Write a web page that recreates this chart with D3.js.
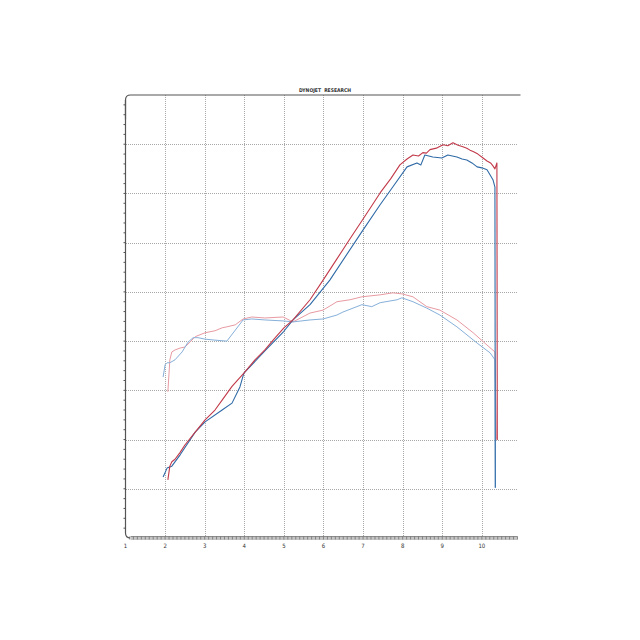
<!DOCTYPE html>
<html>
<head>
<meta charset="utf-8">
<script src="https://cdn.jsdelivr.net/npm/d3@7"></script>
<style>
html,body{margin:0;padding:0;background:#fff;}
svg{display:block;}
</style>
</head>
<body>
<svg id="chart" width="640" height="640"></svg>
<script>
// ---- Data (RPM x1000, grid units) ----
const title = "DYNOJET  RESEARCH";
const xTickLabels = [1,2,3,4,5,6,7,8,9,10];
const yGridValues = [1,2,3,4,5,6,7,8];

const powerRedRpm = [2.07,2.12,2.17,2.25,2.38,2.50,2.76,3.01,3.26,3.44,3.69,3.99,4.27,4.52,4.75,5.00,5.23,5.66,5.99,6.34,6.67,6.95,7.22,7.43,7.70,7.93,8.11,8.26,8.40,8.51,8.60,8.69,8.85,9.02,9.14,9.27,9.40,9.52,9.62,9.70,9.78,9.90,10.03,10.13,10.22,10.28,10.33,10.38,10.39];
const powerRed    = [1.18,1.46,1.55,1.60,1.74,1.89,2.15,2.40,2.60,2.80,3.08,3.35,3.62,3.82,4.04,4.27,4.43,4.84,5.24,5.67,6.08,6.42,6.75,7.01,7.30,7.58,7.70,7.78,7.76,7.83,7.82,7.89,7.92,7.99,7.97,8.03,7.98,7.95,7.92,7.88,7.85,7.80,7.72,7.66,7.62,7.56,7.50,7.62,1.99];

const powerBlueRpm = [1.95,2.05,2.17,2.38,2.76,3.01,3.44,3.69,3.89,3.99,4.52,5.00,5.23,5.66,6.16,6.95,7.43,7.75,8.11,8.36,8.46,8.56,8.76,8.99,9.14,9.37,9.50,9.62,9.75,9.88,10.00,10.13,10.28,10.33,10.34];
const powerBlue    = [1.24,1.42,1.46,1.69,2.15,2.36,2.60,2.74,3.07,3.35,3.80,4.20,4.43,4.74,5.24,6.20,6.77,7.13,7.54,7.62,7.58,7.78,7.74,7.72,7.78,7.74,7.70,7.68,7.62,7.54,7.52,7.48,7.28,7.13,1.02];

const torqueRedRpm = [2.07,2.12,2.17,2.25,2.38,2.50,2.63,2.76,3.01,3.26,3.44,3.56,3.77,3.97,4.19,4.52,4.98,5.23,5.66,5.99,6.34,6.67,6.97,7.43,7.75,7.98,8.26,8.61,8.94,9.37,9.78,10.13,10.33,10.37];
const torqueRed    = [2.97,3.62,3.78,3.82,3.86,3.88,3.98,4.09,4.17,4.21,4.27,4.29,4.33,4.45,4.49,4.47,4.49,4.39,4.57,4.63,4.80,4.84,4.90,4.94,4.98,4.96,4.90,4.70,4.63,4.43,4.17,3.92,3.78,2.00];

const torqueBlueRpm = [1.95,2.00,2.05,2.12,2.25,2.43,2.58,2.71,2.83,3.01,3.26,3.56,3.97,4.19,4.52,4.98,5.23,5.66,5.99,6.34,6.49,6.97,7.22,7.43,7.86,7.98,8.26,8.61,8.94,9.37,9.88,10.21,10.33,10.34];
const torqueBlue    = [3.27,3.52,3.56,3.56,3.62,3.78,3.98,4.07,4.07,4.04,4.02,4.00,4.43,4.45,4.43,4.41,4.39,4.43,4.45,4.53,4.59,4.74,4.70,4.78,4.84,4.88,4.80,4.67,4.53,4.29,3.96,3.76,3.62,1.02];

const series = [
  {name:"torqueRed",  xs:torqueRedRpm,  ys:torqueRed,  color:"#e89aa2", w:1},
  {name:"torqueBlue", xs:torqueBlueRpm, ys:torqueBlue, color:"#86b0da", w:1},
  {name:"powerBlue",  xs:powerBlueRpm,  ys:powerBlue,  color:"#2f6aa6", w:1.1},
  {name:"powerRed",   xs:powerRedRpm,   ys:powerRed,   color:"#c23a4a", w:1.1}
];

// ---- Chart ----
const svg = d3.select("#chart");
const x = d3.scaleLinear().domain([1, 10.9]).range([125.5, 517.5]);
const y = d3.scaleLinear().domain([0, 9]).range([538, 95]);
const px = v => Math.round(v) + 0.5;

// grid
const grid = svg.append("g").attr("shape-rendering", "crispEdges");
grid.selectAll("line.v").data(xTickLabels.filter(d => d > 1)).join("line")
  .attr("x1", d => px(x(d))).attr("x2", d => px(x(d)))
  .attr("y1", y(9)).attr("y2", y(0))
  .attr("stroke", "#a8a8a8").attr("stroke-width", 1).attr("stroke-dasharray", "1,1");
grid.selectAll("line.h").data(yGridValues).join("line")
  .attr("x1", x(1)).attr("x2", x(10.9))
  .attr("y1", d => px(y(d))).attr("y2", d => px(y(d)))
  .attr("stroke", "#a8a8a8").attr("stroke-width", 1).attr("stroke-dasharray", "1,1");

// top frame line with rounded corner
const r = 5;
svg.append("path")
  .attr("d", `M${x(1)},${y(8.5)} L${x(1)},${y(9)+r} Q${x(1)},${y(9)} ${x(1)+r},${y(9)} L${x(10.9)+3},${y(9)}`)
  .attr("fill", "none").attr("stroke", "#555").attr("stroke-width", 1.2);

// left axis with rounded bottom corner
svg.append("path")
  .attr("d", `M${x(1)},${y(9)+r} L${x(1)},${y(0)-r} Q${x(1)},${y(0)} ${x(1)+r},${y(0)}`)
  .attr("fill", "none").attr("stroke", "#555").attr("stroke-width", 1.2);

// left minor ticks
const leftTicks = d3.range(0, 9.01, 0.2);
svg.append("g").selectAll("line").data(leftTicks.filter(d => d > 0.1 && d < 8.9)).join("line")
  .attr("x1", x(1) - 2).attr("x2", x(1))
  .attr("y1", d => y(d)).attr("y2", d => y(d))
  .attr("stroke", "#555").attr("stroke-width", 1);

// bottom axis band
svg.append("rect")
  .attr("x", x(1) + r).attr("y", y(0) - 1.5)
  .attr("width", x(10.9) - x(1) - r).attr("height", 3.5)
  .attr("fill", "#c4c4c4");
svg.append("line")
  .attr("x1", x(1) + r).attr("x2", x(10.9)).attr("y1", y(0) - 1.5).attr("y2", y(0) - 1.5)
  .attr("stroke", "#777").attr("stroke-width", 0.8);
const bottomTicks = d3.range(1.1, 10.91, 0.1);
svg.append("g").selectAll("line").data(bottomTicks).join("line")
  .attr("x1", d => x(d)).attr("x2", d => x(d))
  .attr("y1", y(0) - 1.5).attr("y2", y(0) + 1.5)
  .attr("stroke", "#666").attr("stroke-width", 0.7);

// x labels
svg.append("g").selectAll("text").data(xTickLabels).join("text")
  .attr("x", d => x(d)).attr("y", y(0) + 10)
  .attr("text-anchor", "middle")
  .attr("font-family", "DejaVu Sans Condensed, DejaVu Sans, sans-serif")
  .attr("font-size", 6).attr("fill", "#333")
  .text(d => d);

// title
svg.append("text")
  .attr("x", 325).attr("y", y(9) - 3)
  .attr("text-anchor", "middle")
  .attr("font-family", "DejaVu Sans Condensed, DejaVu Sans, sans-serif")
  .attr("font-size", 5).attr("font-weight", "bold").attr("fill", "#333")
  .attr("xml:space", "preserve")
  .text(title);

// curves
const line = d3.line().x(d => x(d[0])).y(d => y(d[1])).curve(d3.curveLinear);
svg.append("g").selectAll("path").data(series).join("path")
  .attr("d", s => line(s.xs.map((v, i) => [v, s.ys[i]])))
  .attr("fill", "none")
  .attr("stroke", s => s.color)
  .attr("stroke-width", s => s.w)
  .attr("stroke-linejoin", "round");
</script>
</body>
</html>
